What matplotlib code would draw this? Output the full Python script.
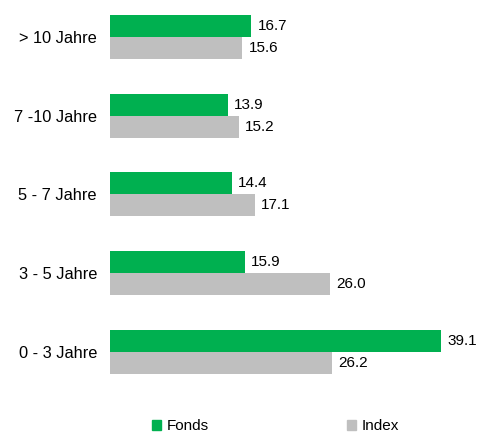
import matplotlib
matplotlib.use("Agg")
import matplotlib.pyplot as plt
import matplotlib.patches as mpatches
import numpy as np

plt.rcParams['font.family'] = ['Liberation Sans', 'DejaVu Sans']

categories = ["0 - 3 Jahre", "3 - 5 Jahre", "5 - 7 Jahre", "7 -10 Jahre", "> 10 Jahre"]
fonds = [39.1, 15.9, 14.4, 13.9, 16.7]
index = [26.2, 26.0, 17.1, 15.2, 15.6]

green = "#00B050"
grey = "#BFBFBF"
fs = 11

fig = plt.figure(figsize=(4.81, 4.32), dpi=100)
ax = fig.add_axes([110 / 481, 0.0762, 360 / 481, 0.9259])

y = np.arange(len(categories))
h = 0.28
ax.barh(y + h / 2, fonds, height=h, color=green)
ax.barh(y - h / 2, index, height=h, color=grey)

off = 0.75
for yi, v in zip(y, fonds):
    ax.text(v + off, yi + h / 2, f"{v:.1f}", va="center", ha="left", fontsize=fs)
for yi, v in zip(y, index):
    ax.text(v + off, yi - h / 2, f"{v:.1f}", va="center", ha="left", fontsize=fs)

ax.set_xlim(0, 360 / 8.465)
ax.set_ylim(-0.6, 4.48)
ax.set_yticks(y)
ax.set_yticklabels(categories, fontsize=11.8)
ax.tick_params(axis="y", length=0, pad=9.4)
ax.set_xticks([])
for s in ax.spines.values():
    s.set_visible(False)

handles = [mpatches.Patch(color=green, label="Fonds"),
           mpatches.Patch(color=grey, label="Index")]
fig.legend(handles=handles, loc="center", bbox_to_anchor=(0.572, 1 - 426 / 432),
           ncol=2, frameon=False, fontsize=fs, handlelength=0.62, handleheight=0.62,
           handletextpad=0.33, columnspacing=9.05, borderpad=0.1)

fig.savefig("out.png", dpi=100)
